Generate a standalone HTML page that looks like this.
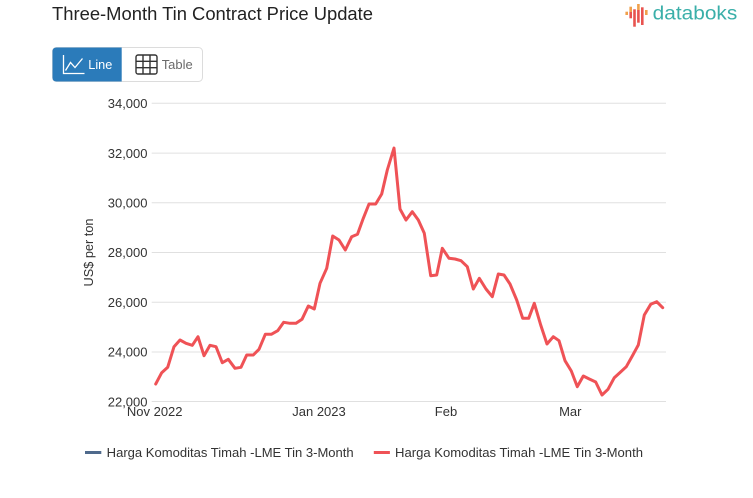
<!DOCTYPE html>
<html>
<head>
<meta charset="utf-8">
<style>
  html,body{margin:0;padding:0;background:#fff;}
  body{width:753px;height:498px;overflow:hidden;font-family:"Liberation Sans",sans-serif;}
  svg{display:block;}
</style>
</head>
<body>
<svg width="753" height="498" viewBox="0 0 753 498" xmlns="http://www.w3.org/2000/svg" font-family="Liberation Sans, sans-serif">
  <!-- Title -->
  <text x="52" y="20" font-size="18" fill="#222" textLength="321" lengthAdjust="spacingAndGlyphs">Three-Month Tin Contract Price Update</text>

  <!-- Logo -->
  <g stroke-linecap="butt">
    <line x1="626.7" y1="11.7" x2="626.7" y2="15" stroke="#f0a04b" stroke-width="2.6"/>
    <line x1="630.7" y1="6.7" x2="630.7" y2="12" stroke="#f0a04b" stroke-width="2.6"/>
    <line x1="630.7" y1="12" x2="630.7" y2="18.3" stroke="#e8534f" stroke-width="2.6"/>
    <line x1="634.5" y1="9.3" x2="634.5" y2="26.7" stroke="#e8534f" stroke-width="2.6"/>
    <line x1="638.4" y1="4" x2="638.4" y2="10" stroke="#f0a04b" stroke-width="2.6"/>
    <line x1="638.4" y1="10" x2="638.4" y2="22.7" stroke="#e8534f" stroke-width="2.6"/>
    <line x1="642.3" y1="7.3" x2="642.3" y2="25" stroke="#e8534f" stroke-width="2.6"/>
    <line x1="646.3" y1="10" x2="646.3" y2="15" stroke="#f0a04b" stroke-width="2.6"/>
  </g>
  <text x="652.7" y="19.5" font-size="19" fill="#3aafa9" textLength="84.6" lengthAdjust="spacingAndGlyphs">databoks</text>

  <!-- Buttons -->
  <rect x="52.5" y="47.5" width="150" height="34" rx="4" ry="4" fill="#fff" stroke="#dcdcdc" stroke-width="1"/>
  <path d="M56.5,47.5 H121.7 V81.5 H56.5 Q52.5,81.5 52.5,77.5 V51.5 Q52.5,47.5 56.5,47.5 Z" fill="#2b7bba"/>
  <g fill="none" stroke="#fff" stroke-width="1.3">
    <polyline points="63.5,55 63.5,73.5 84.5,73.5"/>
    <polyline points="65.5,70.5 70.5,62.5 75,67.5 82.5,58.5"/>
  </g>
  <text x="88.3" y="69" font-size="13" fill="#fff" textLength="24" lengthAdjust="spacingAndGlyphs">Line</text>
  <g fill="none" stroke="#333" stroke-width="1.4">
    <rect x="136" y="55" width="21" height="19" rx="2"/>
    <line x1="143" y1="55" x2="143" y2="74"/>
    <line x1="150" y1="55" x2="150" y2="74"/>
    <line x1="136" y1="61.3" x2="157" y2="61.3"/>
    <line x1="136" y1="67.7" x2="157" y2="67.7"/>
  </g>
  <text x="161.7" y="69" font-size="13" fill="#6a6a6a" textLength="31" lengthAdjust="spacingAndGlyphs">Table</text>

  <!-- Gridlines -->
  <g stroke="#e0e0e0" stroke-width="1">
    <line x1="151.7" y1="103.3" x2="666" y2="103.3"/>
    <line x1="151.7" y1="153.1" x2="666" y2="153.1"/>
    <line x1="151.7" y1="202.8" x2="666" y2="202.8"/>
    <line x1="151.7" y1="252.5" x2="666" y2="252.5"/>
    <line x1="151.7" y1="302.2" x2="666" y2="302.2"/>
    <line x1="151.7" y1="352" x2="666" y2="352"/>
    <line x1="151.7" y1="401.5" x2="666" y2="401.5"/>
  </g>

  <!-- Y tick labels -->
  <g font-size="13" fill="#333" text-anchor="end">
    <text x="147.5" y="108">34,000</text>
    <text x="147.5" y="157.8">32,000</text>
    <text x="147.5" y="207.5">30,000</text>
    <text x="147.5" y="257.2">28,000</text>
    <text x="147.5" y="306.9">26,000</text>
    <text x="147.5" y="356.7">24,000</text>
    <text x="147.5" y="406.3">22,000</text>
  </g>

  <!-- Y axis title -->
  <text transform="translate(93,252.5) rotate(-90)" text-anchor="middle" font-size="12.5" fill="#333" textLength="68" lengthAdjust="spacingAndGlyphs">US$ per ton</text>

  <!-- X tick labels -->
  <g font-size="13" fill="#333" text-anchor="middle">
    <text x="154.7" y="416">Nov 2022</text>
    <text x="319" y="416">Jan 2023</text>
    <text x="446" y="416">Feb</text>
    <text x="570.3" y="416">Mar</text>
  </g>

  <!-- Series -->
  <polyline fill="none" stroke="#ef5256" stroke-width="3" stroke-linejoin="round" stroke-linecap="round" points="
155.7,384 161.7,372.7 167.7,367.3 174,346.7 180,340 186,343.3 192.3,345.3 198,336.7 204,355.7 210,345.3
216,346.7 222.3,362.7 228.3,359.3 235,368.3 241,367.3 246.7,355 253.3,355 259,349.3 265.3,334.3 271.3,334.3
277.7,330.7 283.7,322.3 290,323.3 296,323.3 302,319.3 308.3,306 314.3,309 320,283.3 326.7,268.3 332.7,236
339,240 345.3,250 351.7,236.7 357.5,234.3 363.3,218.3 369,204 375.7,204 381.7,194 387.3,170 394,148
400,209 406,220 412.3,211.7 418.3,220 424.3,233.3 430.7,275.7 436.7,275 442.3,248.3 449,258.3 455,259
461,260.7 467.3,266.7 473.3,289 479.3,278.3 486,289 492.3,296.7 498.3,274 504,275 510,284 516.7,300
522.7,318.3 528.7,318.3 534.3,303.3 540.7,325 547,344 553.3,336.7 559,340.7 565,360.7 571.3,371 577.3,386.7
583.3,376 589.3,379 595.7,382 602,395 608,389.3 614.3,377.7 620.3,372.3 626.3,366.7 632.3,356 638.3,345
644.3,315 650.7,304.3 656.7,301.7 662.7,307.7"/>

  <!-- Legend -->
  <line x1="85" y1="452.5" x2="101.3" y2="452.5" stroke="#4f6a8c" stroke-width="3"/>
  <text x="106.7" y="457" font-size="13" fill="#333" textLength="247" lengthAdjust="spacingAndGlyphs">Harga Komoditas Timah -LME Tin 3-Month</text>
  <line x1="373.8" y1="452.5" x2="389.9" y2="452.5" stroke="#ef5256" stroke-width="3"/>
  <text x="395" y="457" font-size="13" fill="#333" textLength="248" lengthAdjust="spacingAndGlyphs">Harga Komoditas Timah -LME Tin 3-Month</text>
</svg>
</body>
</html>
